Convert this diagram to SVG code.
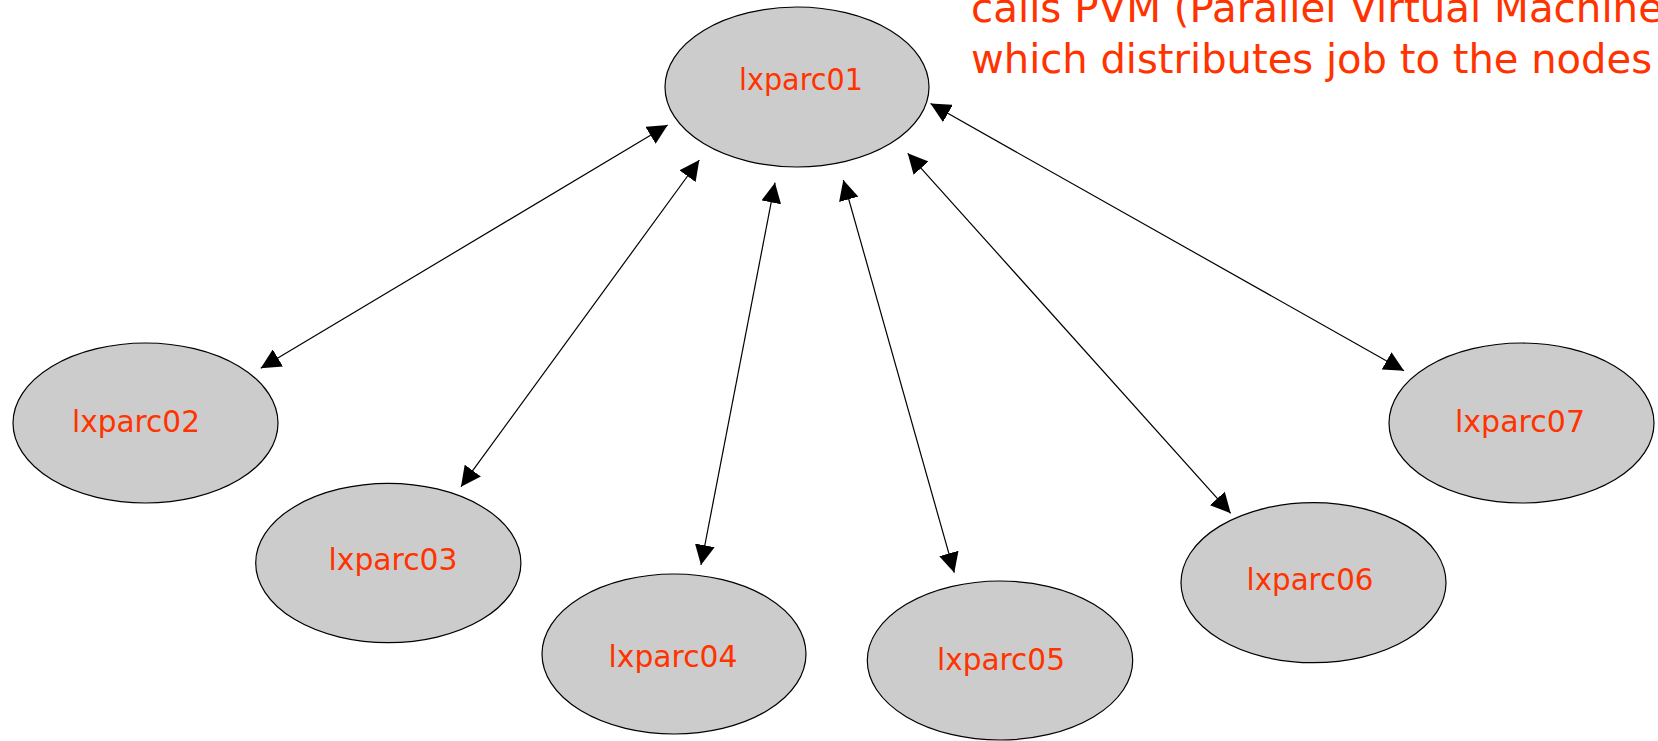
<svg xmlns="http://www.w3.org/2000/svg" width="1658" height="741" viewBox="0 0 1658 741">
  <style>
    .node ellipse { fill: #cccccc; stroke: #000000; stroke-width: 1.2; }
    .node text { font-family: "DejaVu Sans", "Liberation Sans", sans-serif; font-size: 31px; fill: #ff3300; text-anchor: middle; }
    .conn line { stroke: #000000; stroke-width: 1.2; marker-start: url(#arrow); marker-end: url(#arrow); }
    .note { font-family: "DejaVu Sans", "Liberation Sans", sans-serif; font-size: 40px; fill: #ff3300; }
  </style>
  <defs>
    <marker id="arrow" viewBox="0 0 20 20" refX="20" refY="10" markerWidth="20" markerHeight="20" markerUnits="userSpaceOnUse" orient="auto-start-reverse">
      <path d="M0,0 L20,10 L0,20 Z" fill="#000000"/>
    </marker>
  </defs>
  <rect width="1658" height="741" fill="#ffffff"/>

  <g id="connectors" class="conn">
    <line x1="1404" y1="370.7" x2="930.5" y2="103.6"/>
    <line x1="260.7" y1="368.3" x2="667.7" y2="125"/>
    <line x1="461" y1="486.7" x2="699.3" y2="160"/>
    <line x1="701" y1="565" x2="775" y2="182.7"/>
    <line x1="954.3" y1="572.7" x2="843.3" y2="180"/>
    <line x1="1230.7" y1="513.3" x2="907.7" y2="153.3"/>
  </g>

  <g id="lxparc01" class="node">
    <ellipse cx="797" cy="87" rx="132" ry="80"/>
    <text x="801" y="89.5" textLength="124" lengthAdjust="spacingAndGlyphs">lxparc01</text>
  </g>
  <g id="lxparc02" class="node">
    <ellipse cx="145.5" cy="423" rx="132.5" ry="80"/>
    <text x="136" y="432" textLength="128" lengthAdjust="spacingAndGlyphs">lxparc02</text>
  </g>
  <g id="lxparc03" class="node">
    <ellipse cx="388.3" cy="563" rx="132.6" ry="79.7"/>
    <text x="393" y="570" textLength="129" lengthAdjust="spacingAndGlyphs">lxparc03</text>
  </g>
  <g id="lxparc04" class="node">
    <ellipse cx="674" cy="654" rx="132" ry="80"/>
    <text x="673" y="666.5" textLength="129" lengthAdjust="spacingAndGlyphs">lxparc04</text>
  </g>
  <g id="lxparc05" class="node">
    <ellipse cx="1000" cy="660.5" rx="132.7" ry="79.5"/>
    <text x="1001" y="670" textLength="128" lengthAdjust="spacingAndGlyphs">lxparc05</text>
  </g>
  <g id="lxparc06" class="node">
    <ellipse cx="1313.5" cy="582.7" rx="132.5" ry="80"/>
    <text x="1310" y="590" textLength="127" lengthAdjust="spacingAndGlyphs">lxparc06</text>
  </g>
  <g id="lxparc07" class="node">
    <ellipse cx="1521.5" cy="423" rx="132.5" ry="80"/>
    <text x="1520" y="431.7" textLength="130" lengthAdjust="spacingAndGlyphs">lxparc07</text>
  </g>

  <g id="note">
    <text class="note" x="971" y="21.7" textLength="692" lengthAdjust="spacingAndGlyphs">calls PVM (Parallel Virtual Machine</text>
    <text class="note" x="971" y="73.3" textLength="681" lengthAdjust="spacingAndGlyphs">which distributes job to the nodes</text>
  </g>
</svg>
